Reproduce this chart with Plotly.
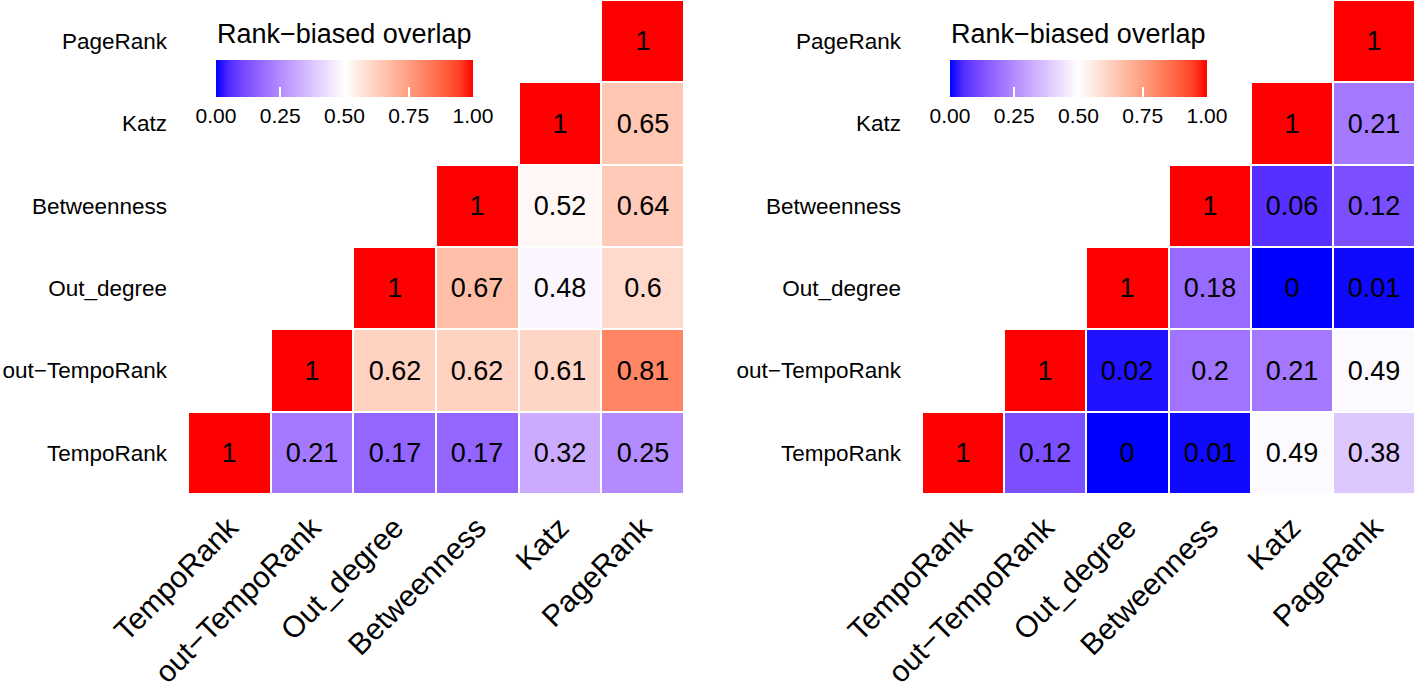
import plotly.graph_objects as go
import numpy as np

metrics = ["TempoRank", "out−TempoRank", "Out_degree", "Betweenness", "Katz", "PageRank"]

# rows bottom -> top, columns left -> right (None = blank lower triangle)
rbo_left = [
    [1, 0.21, 0.17, 0.17, 0.32, 0.25],
    [None, 1, 0.62, 0.62, 0.61, 0.81],
    [None, None, 1, 0.67, 0.48, 0.6],
    [None, None, None, 1, 0.52, 0.64],
    [None, None, None, None, 1, 0.65],
    [None, None, None, None, None, 1],
]
rbo_right = [
    [1, 0.12, 0, 0.01, 0.49, 0.38],
    [None, 1, 0.02, 0.2, 0.21, 0.49],
    [None, None, 1, 0.18, 0, 0.01],
    [None, None, None, 1, 0.06, 0.12],
    [None, None, None, None, 1, 0.21],
    [None, None, None, None, None, 1],
]

W, H = 1425, 689
FONT = "Liberation Sans, Arial, sans-serif"


def srgb_to_lab(rgb):
    c = np.array(rgb) / 255.0
    c = np.where(c > 0.04045, ((c + 0.055) / 1.055) ** 2.4, c / 12.92)
    m = np.array([[0.4124, 0.3576, 0.1805], [0.2126, 0.7152, 0.0722], [0.0193, 0.1192, 0.9505]])
    xyz = m @ c / np.array([0.95047, 1.0, 1.08883])
    f = np.where(xyz > 0.008856, np.cbrt(xyz), 7.787 * xyz + 16 / 116)
    return np.array([116 * f[1] - 16, 500 * (f[0] - f[1]), 200 * (f[1] - f[2])])


def lab_to_srgb(lab):
    L, a, b = lab
    fy = (L + 16) / 116
    fx, fz = fy + a / 500, fy - b / 200
    f = np.array([fx, fy, fz])
    xyz = np.where(f ** 3 > 0.008856, f ** 3, (f - 16 / 116) / 7.787) * np.array([0.95047, 1.0, 1.08883])
    mi = np.array([[3.2406, -1.5372, -0.4986], [-0.9689, 1.8758, 0.0415], [0.0557, -0.2040, 1.0570]])
    c = mi @ xyz
    c = np.where(c > 0.0031308, 1.055 * np.clip(c, 0, None) ** (1 / 2.4) - 0.055, 12.92 * c)
    c = np.clip(c * 255, 0, 255)
    return "rgb(%d,%d,%d)" % tuple(np.round(c))


# gradient2: blue -> white (0.5) -> red, interpolated in Lab
blue, white, red = srgb_to_lab((0, 0, 255)), srgb_to_lab((255, 255, 255)), srgb_to_lab((255, 0, 0))
scale = []
for t in np.linspace(0, 1, 21):
    if t <= 0.5:
        lab = blue + (white - blue) * (t / 0.5)
    else:
        lab = white + (red - white) * ((t - 0.5) / 0.5)
    scale.append([float(t), lab_to_srgb(lab)])


def labels(z):
    return [["" if v is None else f"{v:g}" for v in row] for row in z]


fig = go.Figure()
panels = [(rbo_left, 188, 684, "x", "y"), (rbo_right, 922, 1415, "x2", "y2")]
for i, (z, x0, x1, xa, ya) in enumerate(panels):
    fig.add_trace(go.Heatmap(
        z=z, x=metrics, y=metrics, text=labels(z), texttemplate="%{text}",
        textfont=dict(size=27, color="black", family=FONT),
        colorscale=scale, zmin=0, zmax=1, xgap=2, ygap=2,
        xaxis=xa, yaxis=ya, hoverongaps=False,
        colorbar=dict(
            orientation="h", x=(x0 + 18) / W, xanchor="left", y=1 - 60 / H, yanchor="top",
            lenmode="pixels", len=277, thickness=37, outlinewidth=0, ypad=0,
            tickvals=[0, 0.25, 0.5, 0.75, 1], ticktext=["0.00", "0.25", "0.50", "0.75", "1.00"],
            ticks="inside", ticklen=10, tickcolor="white", tickwidth=2,
            tickfont=dict(size=21, family=FONT),
        ),
    ))
    # legend title, centred over the colour bar
    fig.add_annotation(
        text="Rank−biased overlap", xref="paper", yref="paper",
        x=(x0 + 28 + 128) / W, y=1 - 34 / H, xanchor="center", yanchor="middle",
        showarrow=False, font=dict(size=27, family=FONT, color="black"),
    )
    sfx = "" if i == 0 else str(i + 1)
    fig.layout["xaxis" + sfx] = dict(
        domain=[x0 / W, x1 / W], anchor=ya, tickangle=-45, showgrid=False, zeroline=False,
        tickfont=dict(size=30, family=FONT), ticks="", categoryorder="array", categoryarray=metrics,
        ticklabelstandoff=9, automargin=False,
    )
    fig.layout["yaxis" + sfx] = dict(
        domain=[1 - 494 / H, 1], anchor=xa, showgrid=False, zeroline=False,
        tickfont=dict(size=22.5, family=FONT), ticks="", categoryorder="array", categoryarray=metrics,
        ticklabelstandoff=20, automargin=False,
    )

fig.update_layout(
    width=W, height=H, margin=dict(l=0, r=0, t=0, b=0),
    plot_bgcolor="white", paper_bgcolor="white",
    font=dict(family=FONT, color="black"),
)
fig.write_html("out.html", config={"displayModeBar": False},
               post_script="document.body.style.margin='0px';")
